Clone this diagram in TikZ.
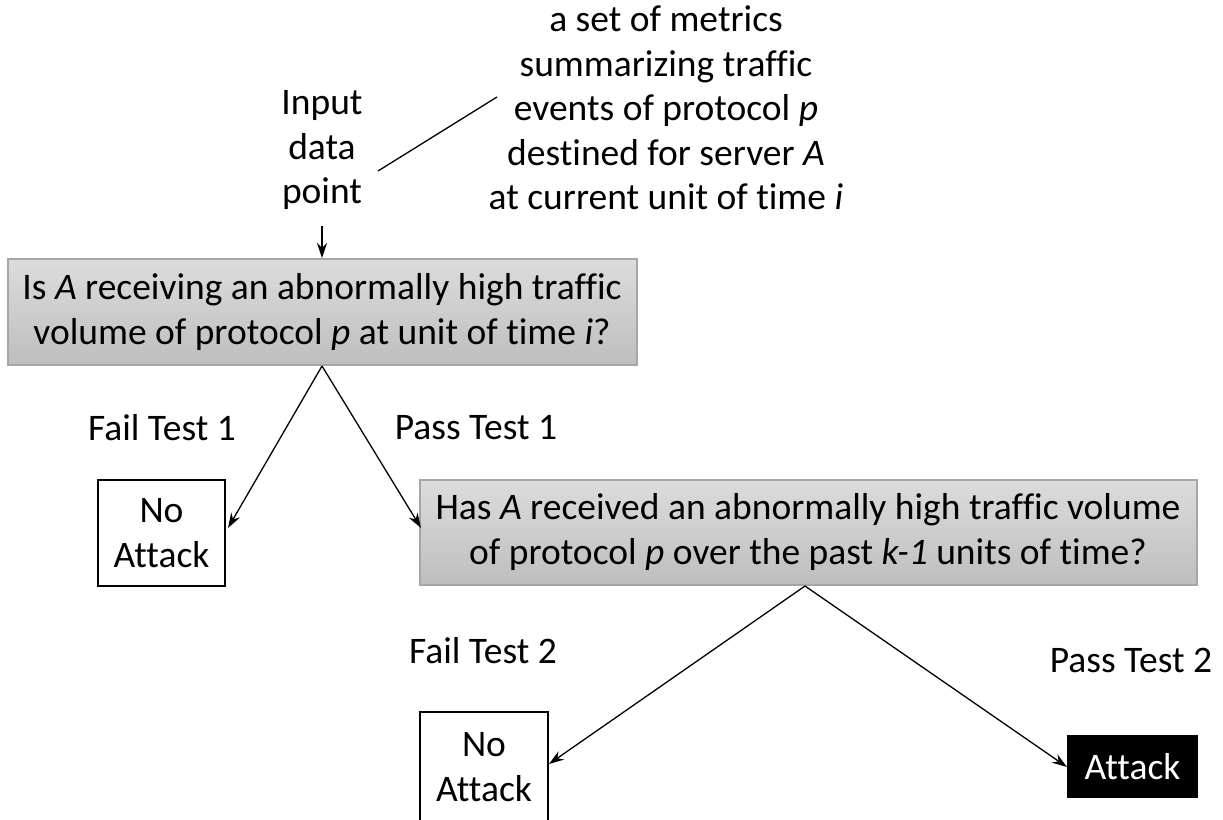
\documentclass[tikz,border=0pt]{standalone}
\usepackage{fontspec}
\setmainfont[Ligatures=NoCommon]{Carlito}
\usetikzlibrary{arrows.meta}
\definecolor{boxtop}{HTML}{DCDCDC}
\definecolor{boxbot}{HTML}{BEBEBE}
\definecolor{boxedge}{HTML}{A6A6A6}
\begin{document}
\begin{tikzpicture}[x=1pt,y=-1pt,
  txt/.style={font=\fontsize{37.5}{44.5}\selectfont, align=center, inner sep=0pt},
  qbox/.style={draw=boxedge, line width=1.5pt, top color=boxtop, bottom color=boxbot, inner sep=0pt},
  wbox/.style={draw=black, line width=1.5pt, fill=white, inner sep=0pt},
  conn/.style={draw=black, line width=1.3pt},
  arr/.style={conn, -{Stealth[length=15pt,width=10pt]}}
  ]
\useasboundingbox (0,0) rectangle (1223,819);
% metrics note
\node[txt] (note) at (666,108) {a set of metrics\\summarizing traffic\\events of protocol \textit{p}\\destined for server \textit{A}\\at current unit of time \textit{i}};
\node[txt] (input) at (322,150) {Input\\data\\point};
\coordinate (lnA) at (378,171);
\coordinate (lnB) at (497,97);
\draw[conn] (lnA) -- (lnB);
% box 1
\path[qbox] (8,259) rectangle (637,365);
\node[txt] (q1) at (322,312) {Is \textit{A} receiving an abnormally high traffic\\volume of protocol \textit{p} at unit of time \textit{i}?};
\coordinate (q1top) at (322,258);
\coordinate (q1bot) at (322,366);
\coordinate (inbot) at (322,226);
\draw[arr] (inbot) -- (q1top);
% No attack 1
\path[wbox] (98,480) rectangle (225,586);
\node[txt] (na1) at (161.5,533) {No\\Attack};
\coordinate (na1in) at (228,528);
% box 2
\path[qbox] (420,480) rectangle (1197,585);
\node[txt] (q2) at (808,532) {Has \textit{A} received an abnormally high traffic volume\\of protocol \textit{p} over the past \textit{k-1} units of time?};
\coordinate (q2in) at (421,528);
\coordinate (q2bot) at (805,586);
\draw[arr] (q1bot) -- (na1in);
\draw[arr] (q1bot) -- (q2in);
\node[txt] (f1) at (162,428) {Fail Test 1};
\node[txt] (p1) at (476,428) {Pass Test 1};
% No attack 2
\path[wbox] (420,712) rectangle (548,830);
\node[txt] (na2) at (484,767) {No\\Attack};
\coordinate (na2in) at (549,764);
% Attack
\path[draw=black, fill=black, line width=1.5pt] (1068,736) rectangle (1197,797);
\node[txt, text=white] (att) at (1132.5,767) {Attack};
\coordinate (attin) at (1067,767);
\draw[arr] (q2bot) -- (na2in);
\draw[arr] (q2bot) -- (attin);
\node[txt] (f2) at (483,651) {Fail Test 2};
\node[txt] (p2) at (1131,660) {Pass Test 2};
\end{tikzpicture}
\end{document}
